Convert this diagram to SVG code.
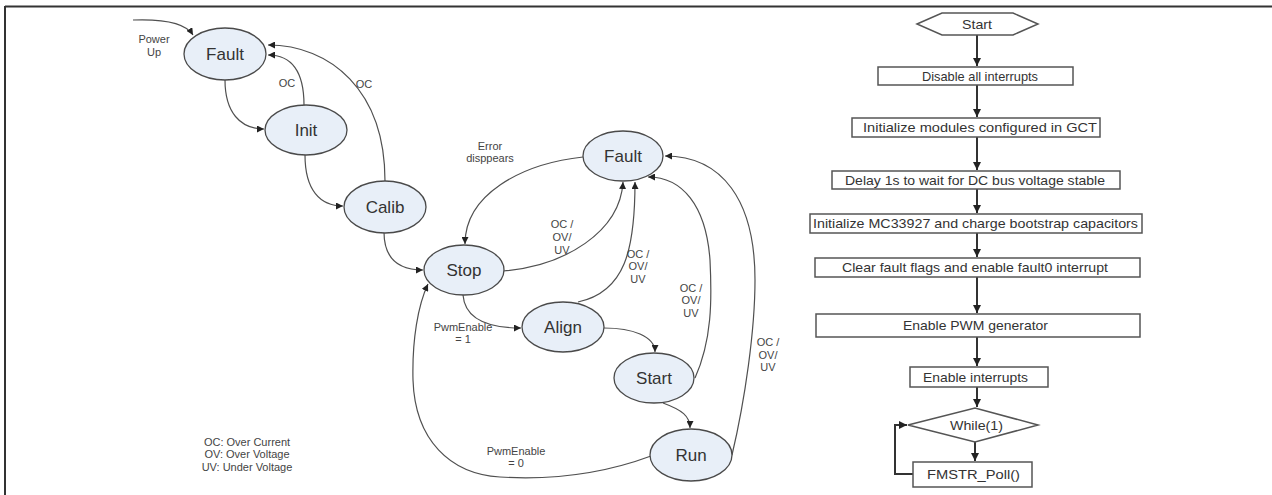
<svg xmlns="http://www.w3.org/2000/svg" width="1272" height="495" viewBox="0 0 1272 495">
<style>
.st ellipse{fill:#e8eff8;stroke:#4a4a4a;stroke-width:1.3}
.st text{font-family:"Liberation Sans",Arial,sans-serif;font-size:17px;fill:#333;text-anchor:middle}
.lbl{font-family:"Liberation Sans",Arial,sans-serif;font-size:11px;fill:#444;text-anchor:middle}
.edge{fill:none;stroke:#505050;stroke-width:1.2;marker-end:url(#ah)}
.fb rect,.fb polygon{fill:#fff;stroke:#555;stroke-width:1.5}
.fb text{font-family:"Liberation Sans",Arial,sans-serif;font-size:13.5px;fill:#333;text-anchor:middle}
.fl{fill:none;stroke:#333;stroke-width:2;marker-end:url(#fa)}
</style>
<defs>
<marker id="ah" markerUnits="userSpaceOnUse" markerWidth="8" markerHeight="7" refX="7" refY="3.5" orient="auto">
<path d="M0,0 L7,3.5 L0,7 Z" fill="#222"/>
</marker>
<marker id="fa" markerUnits="userSpaceOnUse" markerWidth="9" markerHeight="8" refX="8" refY="4" orient="auto">
<path d="M0,0 L8,4 L0,8 Z" fill="#222"/>
</marker>
</defs>
<rect width="1272" height="495" fill="#fff"/>
<g id="frame">
<line x1="5" y1="6.5" x2="1272" y2="6.5" stroke="#333" stroke-width="2"/>
<line x1="5" y1="6" x2="5" y2="495" stroke="#333" stroke-width="2"/>
</g>
<g id="connectors">
<path class="edge" d="M133,20 C160,19 185,22 193,35"/>
<path class="edge" d="M225,80 C225,112 240,129 264,129"/>
<path class="edge" d="M304,105 C304,72 292,55 268,55"/>
<path class="edge" d="M385,181 C385,90 330,45 268,45"/>
<path class="edge" d="M305,155 C305,190 320,206 343,206"/>
<path class="edge" d="M384,232 C384,260 400,270 423,270"/>
<path class="edge" d="M583,157 C520,164 465,195 465,244"/>
<path class="edge" d="M503,271 C565,266 620,232 623,182"/>
<path class="edge" d="M578,302 C625,292 635,250 635,182"/>
<path class="edge" d="M695,378 C712,340 712,300 710,260 C706,205 682,177 648,177"/>
<path class="edge" d="M732,455 C745,400 755,330 755,280 C755,200 722,156 665,156"/>
<path class="edge" d="M463,295 C465,320 490,328 521,328"/>
<path class="edge" d="M604,328 C632,328 655,336 655,352"/>
<path class="edge" d="M663,403 C682,410 690,416 690,428"/>
<path class="edge" d="M651,456 C600,475 550,480 500,477 C450,474 415,440 413,380 C412,340 418,305 428,284"/>
<path class="fl" d="M977,35 V66"/>
<path class="fl" d="M977,85 V117"/>
<path class="fl" d="M977,137 V170"/>
<path class="fl" d="M977,189 V213"/>
<path class="fl" d="M977,233 V257"/>
<path class="fl" d="M977,277 V313"/>
<path class="fl" d="M977,337 V366"/>
<path class="fl" d="M977,387 V407"/>
<path class="fl" d="M975,442 V461"/>
<path class="fl" d="M913,474 H895 V425 H907"/>
</g>
<g id="labels">
<text class="lbl" x="154" y="43">Power</text>
<text class="lbl" x="154" y="56">Up</text>
<text class="lbl" x="287" y="87">OC</text>
<text class="lbl" x="364" y="88">OC</text>
<text class="lbl" x="490" y="150">Error</text>
<text class="lbl" x="490" y="162">disppears</text>
<text class="lbl" x="562" y="228">OC /</text>
<text class="lbl" x="562" y="241">OV/</text>
<text class="lbl" x="562" y="254">UV</text>
<text class="lbl" x="638" y="258">OC /</text>
<text class="lbl" x="638" y="270">OV/</text>
<text class="lbl" x="638" y="283">UV</text>
<text class="lbl" x="691" y="292">OC /</text>
<text class="lbl" x="691" y="304">OV/</text>
<text class="lbl" x="691" y="317">UV</text>
<text class="lbl" x="768" y="346">OC /</text>
<text class="lbl" x="768" y="359">OV/</text>
<text class="lbl" x="768" y="371">UV</text>
<text class="lbl" x="463" y="331">PwmEnable</text>
<text class="lbl" x="463" y="343">= 1</text>
<text class="lbl" x="516" y="455">PwmEnable</text>
<text class="lbl" x="516" y="467">= 0</text>
<text class="lbl" x="247" y="446">OC: Over Current</text>
<text class="lbl" x="247" y="458">OV: Over Voltage</text>
<text class="lbl" x="247" y="471">UV: Under Voltage</text>
</g>
<g id="fault1" class="st"><ellipse cx="225" cy="54" rx="41" ry="26"/><text x="225" y="60">Fault</text></g>
<g id="init" class="st"><ellipse cx="306" cy="130" rx="41" ry="25"/><text x="306" y="136">Init</text></g>
<g id="calib" class="st"><ellipse cx="385" cy="207" rx="41" ry="26"/><text x="385" y="213">Calib</text></g>
<g id="stop" class="st"><ellipse cx="464" cy="270" rx="40" ry="25"/><text x="464" y="276">Stop</text></g>
<g id="fault2" class="st"><ellipse cx="623" cy="156" rx="40" ry="25"/><text x="623" y="162">Fault</text></g>
<g id="align" class="st"><ellipse cx="563" cy="327" rx="41" ry="25"/><text x="563" y="333">Align</text></g>
<g id="start" class="st"><ellipse cx="654" cy="378" rx="40" ry="25"/><text x="654" y="384">Start</text></g>
<g id="run" class="st"><ellipse cx="691" cy="455" rx="41" ry="26"/><text x="691" y="461">Run</text></g>
<g id="f-start" class="fb"><polygon points="917,24 942,13 1013,13 1038,24 1013,35 942,35"/><text x="977" y="29" textLength="30" lengthAdjust="spacingAndGlyphs">Start</text></g>
<g id="f-disable" class="fb"><rect x="878" y="67" width="195" height="18"/><text x="980" y="80.5" textLength="116" lengthAdjust="spacingAndGlyphs">Disable all interrupts</text></g>
<g id="f-initmod" class="fb"><rect x="852" y="118" width="248" height="19"/><text x="980" y="132" textLength="234" lengthAdjust="spacingAndGlyphs">Initialize modules configured in GCT</text></g>
<g id="f-delay" class="fb"><rect x="832" y="171" width="288" height="18"/><text x="975" y="184.5" textLength="260" lengthAdjust="spacingAndGlyphs">Delay 1s to wait for DC bus voltage stable</text></g>
<g id="f-initmc" class="fb"><rect x="810" y="214" width="332" height="19"/><text x="975.5" y="228" textLength="325" lengthAdjust="spacingAndGlyphs">Initialize MC33927 and charge bootstrap capacitors</text></g>
<g id="f-clear" class="fb"><rect x="815" y="258" width="325" height="19"/><text x="975" y="272" textLength="266" lengthAdjust="spacingAndGlyphs">Clear fault flags and enable fault0 interrupt</text></g>
<g id="f-pwm" class="fb"><rect x="816" y="314" width="324" height="23"/><text x="975.5" y="330" textLength="145" lengthAdjust="spacingAndGlyphs">Enable PWM generator</text></g>
<g id="f-int" class="fb"><rect x="910" y="367" width="138" height="20"/><text x="975.5" y="381.5" textLength="105" lengthAdjust="spacingAndGlyphs">Enable interrupts</text></g>
<g id="f-while" class="fb"><polygon points="908,425 975,408 1038,425 975,442"/><text x="976.5" y="430" textLength="53" lengthAdjust="spacingAndGlyphs">While(1)</text></g>
<g id="f-poll" class="fb"><rect x="913" y="462" width="119" height="25"/><text x="973.5" y="479" textLength="93" lengthAdjust="spacingAndGlyphs">FMSTR_Poll()</text></g>
</svg>
